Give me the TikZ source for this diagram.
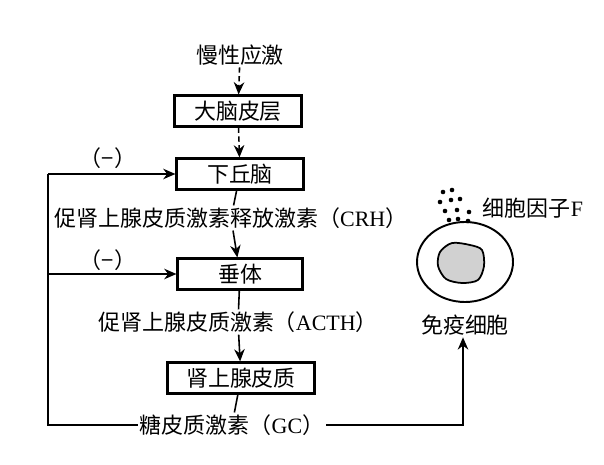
\documentclass[tikz,border=0pt]{standalone}
\usepackage{fontspec}
\setmainfont{Noto Sans CJK SC}
\newfontfamily\lat{Liberation Serif}
\usetikzlibrary{arrows.meta}
\begin{document}
\begin{tikzpicture}[x=0.02cm,y=-0.02cm,
  every node/.style={font=\fontsize{12.5}{14}\selectfont, inner sep=1pt},
  box/.style={draw, line width=1.2pt, minimum height=0.62cm, inner sep=0pt},
  ln/.style={line width=0.9pt},
  arr/.style={ln,-{Stealth[length=7pt,width=6pt]}},
  darr/.style={arr,dashed,dash pattern=on 3pt off 2pt}]
\useasboundingbox (0,0) rectangle (604,465);
\node (stress) at (240,55) {慢性应激};
\node[box,minimum width=2.54cm] (cortex) at (238,111) {大脑皮层};
\node[box,minimum width=2.54cm] (hyp) at (240,174) {下丘脑};
\node (crh) at (231,218) {促肾上腺皮质激素释放激素（{\lat CRH}）};
\node[box,minimum width=2.5cm] (pit) at (240,274) {垂体};
\node (acth) at (238,322) {促肾上腺皮质激素（{\lat ACTH}）};
\node[box,minimum width=2.94cm] (adr) at (241,378) {肾上腺皮质};
\node (gc) at (232,425) {糖皮质激素（{\lat GC}）};
\node (m1) at (108,158) {（−）};
\node (m2) at (108,260) {（−）};
\coordinate (lb) at (48,425);
\coordinate (l1) at (48,174);
\coordinate (l2) at (48,274);
\coordinate (rc) at (463,425);
\draw[darr] (stress) -- (cortex);
\draw[darr] (cortex) -- (hyp);
\draw[ln] (hyp) -- (crh);
\draw[arr] (crh) -- (pit);
\draw[ln] (pit) -- (acth);
\draw[arr] (acth) -- (adr);
\draw[ln] (adr) -- (gc);
\draw[ln] (gc.west) -- (lb) -- (l1);
\draw[arr] (l1) -- (hyp.west);
\draw[arr] (l2) -- (pit.west);
% cell
\node (immune) at (465,325) {免疫细胞};
\draw[arr] (gc.east) -- (rc) -- (immune.south -| rc);
\draw[line width=1.1pt] (465,262) ellipse [x radius=48, y radius=40];
\draw[fill=black!18, line width=1pt] plot[smooth cycle] coordinates {(440,252) (452,243) (470,245) (482,250) (484,266) (478,280) (462,283) (446,279) (438,266)};
\node[font=\fontsize{12.5}{14}\selectfont] (cyto) at (533,208) {细胞因子{\lat F}};
\foreach \p in {(443,192),(452,190),(440,202),(451,200),(460,199),(445,211),(457,210),(469,212),(449,220),(458,219),(468,221)}
  \fill \p circle (2.3);
\end{tikzpicture}
\end{document}
